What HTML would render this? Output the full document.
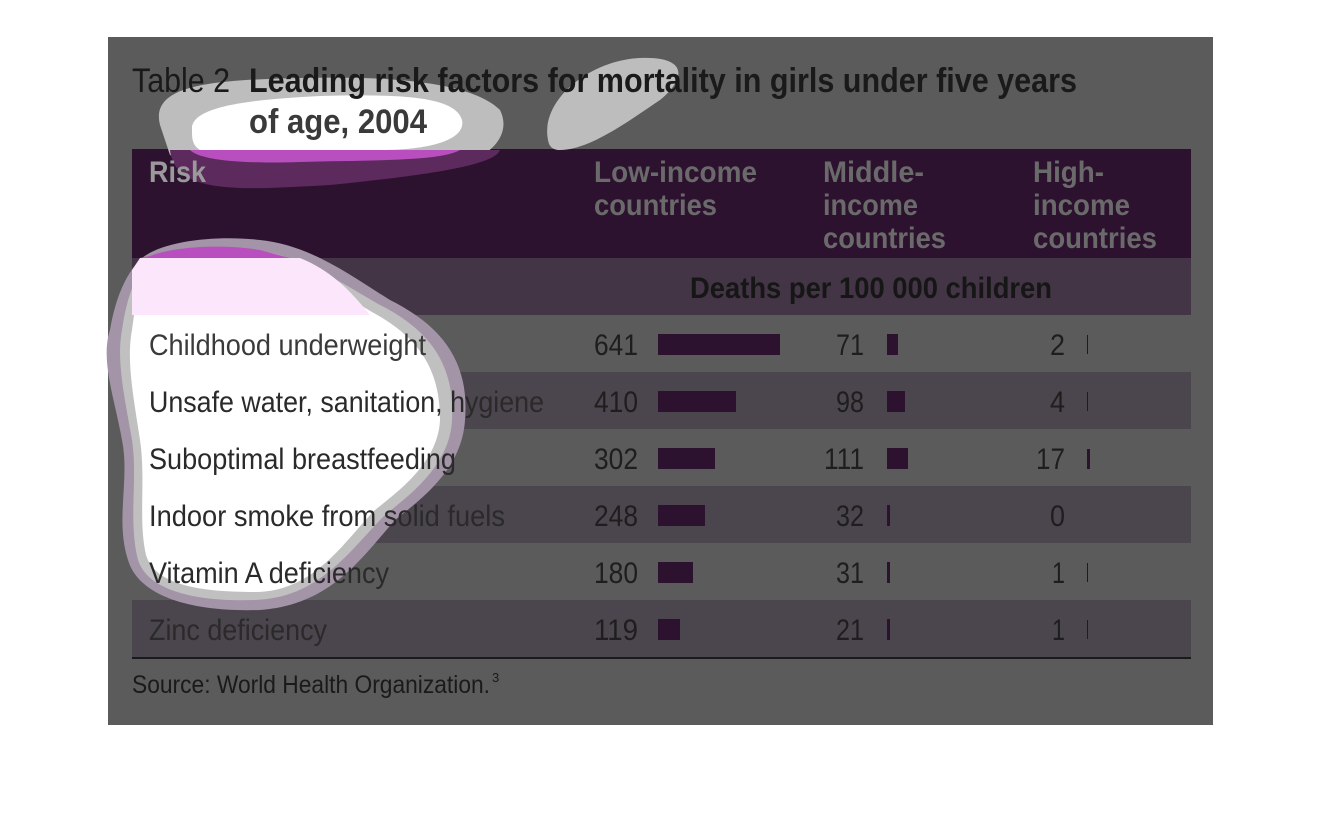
<!DOCTYPE html>
<html><head><meta charset="utf-8"><style>
html,body{margin:0;padding:0;background:#fff;width:1322px;height:820px;overflow:hidden}
svg text{font-family:"Liberation Sans",sans-serif}
</style></head><body>
<svg width="1322" height="820" viewBox="0 0 1322 820" xmlns="http://www.w3.org/2000/svg">
<rect x="0" y="0" width="1322" height="820" fill="#fff"/>
<rect x="108" y="37" width="1105" height="688" fill="#5b5b5b"/>
<rect x="132" y="149" width="1059" height="109" fill="#2d1230"/>
<rect x="132" y="258" width="1059" height="57" fill="#433545"/>
<rect x="132" y="372" width="1059" height="57" fill="#4b454d"/>
<rect x="132" y="486" width="1059" height="57" fill="#4b454d"/>
<rect x="132" y="600" width="1059" height="57" fill="#4b454d"/>
<rect x="132" y="657" width="1059" height="2" fill="#1a1a1a"/>

<path d="M160,125 C150,85 210,80 300,78 C380,76 470,80 500,110 C515,140 480,170 420,170 C340,170 200,170 170,155 Z" fill="#bdbdbd"/>
<path d="M192,130 C190,108 240,100 320,96 C400,94 455,96 462,120 C466,140 430,150 380,150 L200,150 C192,145 192,138 192,130 Z" fill="#fff"/>
<path d="M548,140 C540,100 590,60 640,58 C690,56 685,80 660,100 C630,120 590,150 560,150 C552,150 549,146 548,140 Z" fill="#bdbdbd"/>
<path d="M170,150 L500,150 C495,165 430,175 330,185 C240,190 175,195 170,150 Z" fill="#5c2a5c"/>
<path d="M190,150 L460,150 C440,162 360,160 300,162 C240,164 200,160 190,150 Z" fill="#b94fbf"/>
<path d="M140,260 C160,240 220,235 260,240 C310,245 350,275 390,300 C440,325 470,360 465,420 C462,470 420,500 395,520 C360,560 330,605 260,610 C200,612 140,600 128,560 C115,520 130,480 122,440 C115,400 100,360 110,330 C115,300 125,275 140,260 Z" fill="#a394a7"/>
<path d="M148,262 C170,250 220,246 255,250 C300,255 340,282 380,305 C430,330 455,365 452,420 C450,465 410,495 385,515 C350,550 320,598 255,600 C200,602 148,592 138,560 C128,520 138,480 132,440 C125,400 116,360 122,330 C126,300 135,275 148,262 Z" fill="#c0c0c0"/>
<path d="M150,268 C175,256 220,254 255,258 C300,265 335,290 372,312 C420,338 440,370 440,420 C438,462 400,490 375,510 C345,540 315,592 255,592 C200,592 155,585 146,555 C138,520 146,480 140,440 C134,400 126,360 132,330 C136,300 140,280 150,268 Z" fill="#fff"/>
<path d="M140,258 L300,258 C330,270 350,290 370,315 L132,315 L132,270 Z" fill="#fce6fc"/>
<path d="M150,256 C175,246 225,244 260,250 L290,258 L140,258 Z" fill="#b94fbf"/>

<text x="132" y="92" font-size="34" fill="#1a1a1a" textLength="98" lengthAdjust="spacingAndGlyphs">Table 2</text>
<text x="249" y="92" font-size="34" font-weight="bold" fill="#1a1a1a" textLength="828" lengthAdjust="spacingAndGlyphs">Leading risk factors for mortality in girls under five years</text>
<text x="249" y="133" font-size="34" font-weight="bold" fill="#3a3a3a" textLength="178" lengthAdjust="spacingAndGlyphs">of age, 2004</text>

<g font-size="30" font-weight="bold" fill="#6a6a6a">
<text x="149" y="182" textLength="57" lengthAdjust="spacingAndGlyphs" fill="#9a9a9a">Risk</text>
<text x="594" y="182" textLength="163" lengthAdjust="spacingAndGlyphs">Low-income</text>
<text x="594" y="215" textLength="123" lengthAdjust="spacingAndGlyphs">countries</text>
<text x="823" y="182" textLength="101" lengthAdjust="spacingAndGlyphs">Middle-</text>
<text x="823" y="215" textLength="95" lengthAdjust="spacingAndGlyphs">income</text>
<text x="823" y="248" textLength="123" lengthAdjust="spacingAndGlyphs">countries</text>
<text x="1033" y="182" textLength="71" lengthAdjust="spacingAndGlyphs">High-</text>
<text x="1033" y="215" textLength="97" lengthAdjust="spacingAndGlyphs">income</text>
<text x="1033" y="248" textLength="124" lengthAdjust="spacingAndGlyphs">countries</text>
</g>
<text x="690" y="298" font-size="30" font-weight="bold" fill="#161616" textLength="362" lengthAdjust="spacingAndGlyphs">Deaths per 100 000 children</text>

<g font-size="30" fill="#2a2a2a">
<text x="149" y="355" fill="#3a3a3a" textLength="277" lengthAdjust="spacingAndGlyphs">Childhood underweight</text>
<text x="149" y="412" textLength="395" lengthAdjust="spacingAndGlyphs">Unsafe water, sanitation, hygiene</text>
<text x="149" y="469" textLength="307" lengthAdjust="spacingAndGlyphs">Suboptimal breastfeeding</text>
<text x="149" y="526" textLength="356" lengthAdjust="spacingAndGlyphs">Indoor smoke from solid fuels</text>
<text x="149" y="583" textLength="240" lengthAdjust="spacingAndGlyphs">Vitamin A deficiency</text>
<text x="149" y="640" textLength="178" lengthAdjust="spacingAndGlyphs">Zinc deficiency</text>
</g>
<g font-size="30" fill="#1e1e1e" lengthAdjust="spacingAndGlyphs">
<text x="594" y="355" textLength="44" lengthAdjust="spacingAndGlyphs">641</text><text x="836" y="355" textLength="28" lengthAdjust="spacingAndGlyphs">71</text><text x="1050" y="355" textLength="15" lengthAdjust="spacingAndGlyphs">2</text>
<text x="594" y="412" textLength="44" lengthAdjust="spacingAndGlyphs">410</text><text x="836" y="412" textLength="28" lengthAdjust="spacingAndGlyphs">98</text><text x="1050" y="412" textLength="15" lengthAdjust="spacingAndGlyphs">4</text>
<text x="594" y="469" textLength="44" lengthAdjust="spacingAndGlyphs">302</text><text x="824" y="469" textLength="40" lengthAdjust="spacingAndGlyphs">111</text><text x="1036" y="469" textLength="29" lengthAdjust="spacingAndGlyphs">17</text>
<text x="594" y="526" textLength="44" lengthAdjust="spacingAndGlyphs">248</text><text x="836" y="526" textLength="28" lengthAdjust="spacingAndGlyphs">32</text><text x="1050" y="526" textLength="15" lengthAdjust="spacingAndGlyphs">0</text>
<text x="594" y="583" textLength="44" lengthAdjust="spacingAndGlyphs">180</text><text x="836" y="583" textLength="28" lengthAdjust="spacingAndGlyphs">31</text><text x="1052" y="583" textLength="13" lengthAdjust="spacingAndGlyphs">1</text>
<text x="594" y="640" textLength="44" lengthAdjust="spacingAndGlyphs">119</text><text x="836" y="640" textLength="28" lengthAdjust="spacingAndGlyphs">21</text><text x="1052" y="640" textLength="13" lengthAdjust="spacingAndGlyphs">1</text>
</g>
<g fill="#2d1230">
<rect x="658" y="334" width="122" height="21"/><rect x="887" y="334" width="11" height="21"/><rect x="1087" y="335" width="1" height="19"/>
<rect x="658" y="391" width="78" height="21"/><rect x="887" y="391" width="18" height="21"/><rect x="1087" y="392" width="1" height="19"/>
<rect x="658" y="448" width="57" height="21"/><rect x="887" y="448" width="21" height="21"/><rect x="1087" y="449" width="3" height="20"/>
<rect x="658" y="505" width="47" height="21"/><rect x="887" y="505" width="3" height="21"/>
<rect x="658" y="562" width="35" height="21"/><rect x="887" y="562" width="3" height="21"/><rect x="1087" y="563" width="1" height="19"/>
<rect x="658" y="619" width="22" height="21"/><rect x="887" y="619" width="3" height="21"/><rect x="1087" y="620" width="1" height="19"/>
</g>
<text x="132" y="693" font-size="25" fill="#1a1a1a" textLength="358" lengthAdjust="spacingAndGlyphs">Source: World Health Organization.</text>
<text x="492" y="682" font-size="13" fill="#1a1a1a">3</text>
</svg>
</body></html>
